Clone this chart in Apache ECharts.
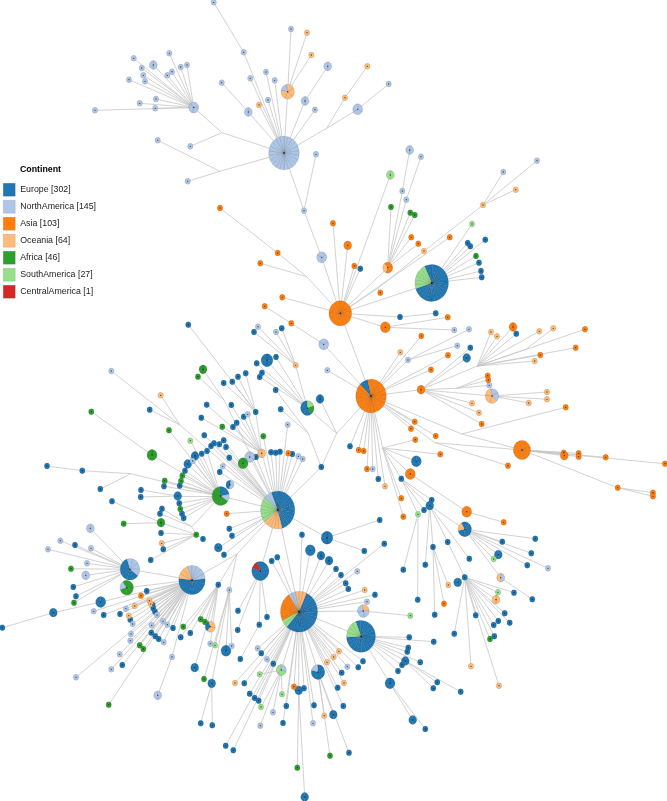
<!DOCTYPE html>
<html><head><meta charset="utf-8">
<style>html,body{margin:0;padding:0;background:#fff}#c{width:667px;height:801px}</style>
<script src="https://cdn.jsdelivr.net/npm/echarts@6/dist/echarts.min.js"></script>
</head><body><div id="c"></div>
<script>
const continents = ["Europe","NorthAmerica","Asia","Oceania","Africa","SouthAmerica","CentralAmerica"];
const continentCodes = ["E","N","A","O","F","S","C"];
const continentTotals = [302,145,103,64,46,27,1];
const continentColors = ["#1f77b4","#aec7e8","#ff7f0e","#ffbb78","#2ca02c","#98df8a","#d62728"];

// [id, parent id, x, y, composition (clockwise), start angle]; "" composition = unmarked branch point
const topCluster = [
["A",null,284,153,"N22",0],["B","j1",193.7,107.5,"N3",80],["j1","A",222,132.7,""],["j2","A",220,171.3,""],
[0,"B",133.7,58.3,"N"],[0,"B",153.3,65,"N2"],[0,"B",169.3,53.3,"N"],[0,"B",141.7,68,"N"],[0,"B",187,65,"N"],[0,"B",180.7,67,"N"],
[0,"B",172,71.7,"N"],[0,"B",167.3,75.3,"N"],[0,"B",143.3,75.3,"N"],[0,"B",145,81.3,"N"],[0,"B",129,79.7,"N"],[0,"B",156,99,"N"],
[0,"B",139.7,103.3,"N"],[0,"B",155.3,108.3,"N"],[0,"B",95,110.3,"N"],
[0,"j1",190.3,146.3,"N"],[0,"j2",157.7,140.3,"N"],[0,"j2",187.7,181.3,"N"],
["t1","A",243.7,52.3,"N"],[0,"t1",213.7,2.3,"N"],["t2","A",248.3,112,"N2"],[0,"t2",221.7,82.7,"N"],
[0,"A",250.3,78.3,"N"],[0,"A",266,72,"N"],[0,"A",274.7,80.3,"N"],[0,"A",268,100,"N"],[0,"A",259,105,"O"],
["t3","A",287.7,91.7,"O4N1",350],[0,"t3",291,29,"N"],[0,"t3",307,32.7,"O"],[0,"t3",311.3,55,"O"],
["t4","A",305,101,"N2"],[0,"t4",327.7,66.3,"N2"],[0,"A",315,109.7,"N"],
["j3","A",326.7,128.3,""],["t5","j3",345,97.7,"O"],[0,"t5",367.3,66.3,"O"],["t6","j3",357.7,109.3,"N3"],[0,"t6",388.7,84,"N"]
];
const asiaCluster = [
["a1","A",304,210.7,"N"],[0,"a1",316,154.3,"N"],["a2","a1",321.7,257.3,"N3",60],["C","a2",340.3,313.3,"A13"],
["a3","C",306.7,276.7,""],["a4","a3",277.7,253,"A"],[0,"a4",220,208,"A"],[0,"a3",260.3,263.3,"A"],
[0,"C",282.3,297.3,"A"],[0,"C",333,223.3,"A"],[0,"C",347.7,245.3,"A2"],[0,"C",354.3,266,"A"],[0,"C",360.3,268.7,"E"],
[0,"C",390.3,175,"S2"],["a5","C",387.7,267.7,"A2O1",320],["a6","a5",402.3,191,"N"],[0,"a6",409.7,150,"N2"],["a7","a5",406.3,199.7,"N"],[0,"a7",421,156.7,"N"],
[0,"a5",391,207,"F"],[0,"a5",410.3,212.7,"F"],[0,"a5",414.7,215,"F"],[0,"a5",411.3,237.3,"A"],[0,"a5",418.3,243.7,"A"],
["a8","C",378,288.3,""],[0,"a8",380.3,292.7,"A"],["a9","a8",424,251,"O"],["a10","a9",483,205,"O"],[0,"a10",503.3,172,"N"],[0,"a10",537,160.7,"N"],[0,"a10",515.7,189.7,"O"],
[0,"C",449.7,237.3,"A"],["Eh","C",431.7,283,"E20S6",335],[0,"Eh",472,224,"S"],[0,"Eh",467.7,243,"E"],[0,"Eh",470.3,246.3,"E"],[0,"Eh",485.3,239.7,"E"],
[0,"Eh",476,256,"F"],[0,"Eh",479,262.7,"E"],[0,"Eh",481,271,"E"],[0,"Eh",481.7,277.3,"E"],
["a11","C",400,317,"E"],[0,"a11",435.7,313.3,"E"],["a12","C",385.3,327.3,"A3"],[0,"a12",447.7,317.3,"A"],[0,"a12",454.3,330,"N"],
["D","C",371,396,"A20E2",347]
];
const eastCluster = [
["d1","D",323.7,344.3,"N3",60],["d2","d1",291.3,323.3,"A"],[0,"d2",264.7,306.3,"A"],[0,"D",327.3,370.3,"N"],
[0,"D",421.3,336,"A"],[0,"D",400.3,352.3,"O"],["d3","D",408,360,"N"],[0,"d3",469,329.3,"N"],[0,"d3",457.3,345.7,"N"],[0,"D",431,369.7,"A"],[0,"D",448,355.3,"A"],
["Fh","D",421,389.7,"A2"],[0,"Fh",470.3,347.7,"E"],[0,"Fh",466.7,358,"E2"],["K1","Fh",477.3,366,""],
[0,"K1",491,332,"O"],[0,"K1",497,336.3,"O"],[0,"K1",513,327,"A2"],[0,"K1",516.3,333.7,"E"],[0,"K1",539.3,331.3,"O"],[0,"K1",585,329.3,"A"],
["k2","K1",526,349.3,""],[0,"k2",553.3,328.3,"O"],[0,"K1",540.3,355,"A"],[0,"K1",575.7,347.7,"A"],[0,"K1",534.7,361,"O"],
["f2","Fh",456.7,388.3,""],[0,"f2",487.7,375.7,"A"],[0,"f2",488.3,380,"A"],[0,"f2",489.3,385.3,"N"],
["f3","Fh",492,396,"N2O3",350],[0,"f3",547,392,"O"],[0,"f3",547,399.3,"O"],[0,"f3",528.7,403,"O"],
[0,"Fh",472,403.3,"O"],[0,"Fh",479,412.7,"O"],[0,"Fh",481.7,424,"A"],
["g1","D",461.7,434,""],[0,"g1",565.7,407.3,"A"],["G","g1",522,450,"A8",30],
[0,"G",563.7,452.7,"A"],[0,"G",564.3,455.7,"A2"],[0,"G",578.7,453.3,"A"],[0,"G",578.7,456.7,"A"],[0,"G",605.7,457.3,"A"],[0,"G",665,463.7,"A"],
["g2","G",617.7,487.7,"A"],[0,"g2",653,492.7,"A"],[0,"g2",653,496.3,"A"],
[0,"D",414.7,421.7,"A"],[0,"D",411,428.7,"A"],[0,"D",435.7,436,"A"],["g3","D",435,442.7,""],[0,"g3",508,465.7,"A"],
["J4","D",382.7,448,""],[0,"J4",415.3,439.7,"A"],[0,"J4",440.3,454.3,"A"],[0,"J4",416.3,461.3,"E3"],["s1","J4",410.3,474,"A3"],["s2","J4",401.3,478.7,"E"],[0,"J4",401.3,498.3,"A"],[0,"J4",403.3,516.7,"A"],
[0,"D",350,446.3,"E"],[0,"D",358.7,450,"A"],[0,"D",363.7,451,"A"],[0,"D",367,469,"A"],[0,"D",372.7,469,"N"],[0,"D",378.3,479,"E"],[0,"D",385,486.3,"O"]
];
const southEastCluster = [
["s3","s1",466.7,511.7,"A3"],[0,"s3",503.7,522.3,"A"],
["s4","s2",429.7,505.7,"E2"],[0,"s2",431.7,500,"E"],[0,"s2",424,510,"E"],["s5","s2",418,514.3,"S"],[0,"s5",403.3,569.7,"E"],[0,"s5",417.7,599.7,"E"],
[0,"s4",425.3,564.7,"E"],["s6","s4",433,547,"E"],[0,"s6",434.7,614.7,"E"],[0,"s6",448.3,585,"O"],[0,"s6",444,603.7,"A"],["s7","s4",447.7,542,"E"],[0,"s4",469.3,558.7,"E"],
["s8","s4",464.7,529.3,"E4O1",330],[0,"s8",535.3,538.7,"E"],[0,"s8",502.3,541.7,"E"],[0,"s8",531.3,553.3,"E"],[0,"s8",498.3,554.7,"E2"],[0,"s8",493.7,559,"S"],[0,"s8",527.3,565.3,"E"],[0,"s8",548,568.3,"N"],
["s9","s8",500.7,577.7,"N1O1",0],[0,"s9",532.3,599.3,"E"],
["s10","s7",464.7,577.3,"E"],[0,"s10",457.7,582.3,"E2"],[0,"s10",514,592.7,"E"],[0,"s10",498,592.3,"S"],[0,"s10",496,599.7,"O2"],[0,"s10",504.7,613.3,"E"],[0,"s10",509.7,622.7,"E"],
[0,"s10",498.3,621,"E"],[0,"s10",493.7,625,"E"],[0,"s10",494.3,636.3,"E"],[0,"s10",490,639,"F"],[0,"s10",475.7,615.3,"E"],[0,"s10",454.3,633.7,"E"],[0,"s10",471,666.3,"O"],[0,"s10",499,685.7,"O"]
];
const centerCluster = [
["j0","m0",321.3,467,"E"],["m0","D",336.7,433.3,""],["m1","j0",308.3,433.3,""],[0,"m1",275.7,390,"E"],[0,"m1",280.7,409.3,"E"],
["P","m0",307.3,408,"S1F1E3",0],[0,"m0",320,399,"E2"],
["p1","P",295.7,365.3,"O"],[0,"p1",258,326.7,"N"],[0,"p1",254,332,"E"],[0,"p1",276,332,"N"],[0,"p1",281.7,328.3,"E"],
[0,"P",267,360.3,"E4"],[0,"P",276,357,"E"],[0,"P",256.7,363.3,"E"],[0,"P",262,372.7,"E"],[0,"P",259.7,377,"E"],
["J","j0",277.7,510,"E14O5S6N2",338],["I","J",299,611.7,"E17S2A7N2O3",24],["H","I",361,636.3,"E16S4",339],
["q1","J",327,537.7,"E4"],[0,"q1",379.7,520,"E"],[0,"q1",364.3,551,"E"],
[0,"I",302,534.7,"E"],[0,"I",310.3,550.3,"E3"],[0,"I",321,555.7,"E2"],[0,"I",329,560.7,"E2"],[0,"I",336,569,"E"],[0,"I",341,575,"E"],[0,"I",345.7,583.3,"E"],[0,"I",348.3,589,"E"],[0,"I",384.3,543.7,"E"],
[0,"I",357.3,571.3,"N"],[0,"I",364.7,590,"O"],[0,"I",375,594.7,"E"],[0,"I",367,601.7,"N"],["q2","I",363.3,611,"O1N3",350],[0,"q2",410.3,615.7,"S"],
[0,"I",271.7,561,"E"],[0,"I",277.3,557.3,"E"],
["R","J",260.3,571,"E7C1",335],[0,"R",238,610.7,"E"],[0,"R",237.7,630,"E"],[0,"R",267,617,"E"],["r1","R",259.3,624.7,"E"],[0,"r1",240.3,659,"E"],
[0,"J",218.3,547.7,"E2"],[0,"J",224,554.7,"E"],[0,"J",229.3,528.7,"E"],[0,"J",232,535.7,"E"],[0,"J",226.7,513.7,"A"],
[0,"H",409.3,637.3,"E"],[0,"H",433.7,641.7,"E"],[0,"H",408.3,647.7,"E"],[0,"H",407.3,651.7,"E"],[0,"H",420.3,662.3,"E"],[0,"H",402,665,"E"],[0,"H",398,671,"E"],
["h1","H",405.3,661,"E2"],[0,"h1",437.3,682.3,"E"],[0,"h1",433.3,688.3,"E"],[0,"h1",460.7,691.7,"E"],
["h2","H",390,683.3,"E3"],[0,"h2",412.7,720,"E2"],[0,"h2",425.3,729,"E"]
];
const bottomCluster = [
[0,"I",273.3,663.7,"E"],["b1","I",281.3,670,"N1S2",350],[0,"b1",259.7,674.3,"S"],[0,"I",267,659.3,"N"],[0,"I",257.7,648.3,"N"],[0,"I",261.3,653.3,"E"],
[0,"I",244.3,683.3,"E"],[0,"I",235,683,"O"],[0,"I",249.7,693.7,"E"],[0,"I",254.7,698,"E"],[0,"I",258.7,700.7,"E"],[0,"I",225.7,745.7,"E"],[0,"I",233.3,750.3,"E"],
[0,"b1",261,707,"S"],[0,"b1",260.3,725.7,"N"],[0,"b1",273,712.3,"N"],[0,"b1",282,694.3,"S"],[0,"I",286.3,706,"E"],[0,"I",283,723,"E"],[0,"I",294,686.7,"A"],
["b2","I",298.7,690.3,"E2"],[0,"I",304,688.3,"E"],[0,"b2",297.3,767.7,"F"],[0,"b2",304.7,797,"E2"],[0,"I",314,705.3,"E"],[0,"I",313,723.3,"N"],
["b3","I",318,672,"E4N1",-5],[0,"b3",324.3,715.7,"O"],[0,"b3",330,755.7,"F"],[0,"b3",333.3,714.7,"E2"],[0,"b3",349,752.7,"E"],
[0,"I",343.3,706,"E"],[0,"I",337.7,687.7,"E"],[0,"I",344,683,"O"],[0,"I",341.7,672.7,"E"],[0,"I",347.3,666.7,"N"],[0,"I",327,662.3,"O"],[0,"I",333.7,657,"O"],[0,"I",339,651.3,"O"],[0,"I",358.3,667.3,"E"],[0,"I",363,661.3,"E"]
];
const northWestCluster = [
["n0","J",261.7,453.3,"O2",0],["n1","n0",255.7,412,"E"],[0,"n1",223.7,383,"E"],[0,"n1",232.3,381.7,"E"],[0,"n1",238,376.7,"E"],[0,"n1",245.7,373.3,"E"],[0,"n1",188.3,324.7,"E"],
[0,"n0",231.3,405,"E"],[0,"n0",243.7,416.7,"E"],[0,"n0",247.7,414.3,"N"],[0,"n0",236.7,422.7,"E"],[0,"n0",233,427,"E"],[0,"n0",222.3,426.7,"F"],[0,"n0",206.7,404.7,"E"],[0,"n0",201.3,417.7,"E"],
[0,"J",249.7,457,"N3"],[0,"J",243,463.3,"F3"],[0,"J",263.3,436.3,"F"],[0,"J",256,457,"E"],[0,"J",271,452.3,"E"],[0,"J",275.7,452.7,"E"],[0,"J",280,451.7,"E"],[0,"J",288.3,453.3,"A"],[0,"J",292.3,454,"E"],[0,"J",298.3,456.3,"N"],[0,"J",302.7,459,"N"],[0,"J",287.7,424.7,"N"],
[0,"J",204.3,435.3,"E"],[0,"J",211,446,"E"],[0,"J",214,443.3,"E"],[0,"J",219.3,444.3,"E"],[0,"J",223.7,440.3,"E"],[0,"J",226,447,"E"],[0,"J",229.3,457.7,"E"],[0,"J",222.7,466.3,"N"],[0,"J",219.7,472,"E"],
["w1","J",180,425,""],[0,"w1",111.3,371,"N"],[0,"w1",160.7,395.3,"O"],[0,"w1",149.7,409.7,"E"],["w2","J",224,400,""],[0,"w2",203,369.3,"F2"],[0,"w2",198,376.7,"F"],
["Nh","J",220.7,496,"E2N1F5",350],[0,"Nh",230,484.7,"N1E1",10],["w3","Nh",152,455,"F3"],[0,"w3",91.3,411.7,"F"],
[0,"Nh",169,430.3,"F"],[0,"Nh",190.3,440.7,"S"],[0,"Nh",207,451,"E"],[0,"Nh",201.7,453.7,"E"],[0,"Nh",195,456,"E2"],[0,"Nh",192.7,461,"N"],[0,"Nh",187.7,464,"E2"],[0,"Nh",185,470.7,"E"],[0,"Nh",182.3,475.7,"F"],[0,"Nh",181,481,"F"],[0,"Nh",179.7,485.7,"E"],
[0,"Nh",164.7,480.7,"F"],[0,"Nh",164,486.3,"E"],["w4","Nh",177.7,496,"E2"],[0,"w4",141,490,"E"],[0,"w4",140.7,497,"E"],[0,"Nh",179.3,503.3,"E"],[0,"Nh",180.3,509,"F"],[0,"Nh",182,513.7,"E"],[0,"Nh",183.7,518,"E"],
["w5","Nh",131,473.7,""],["w6","w5",82.3,470.7,"E"],[0,"w6",47,466,"E"],[0,"w5",100.3,489,"E"],
["w7","Nh",191.7,526.7,""],[0,"w7",162,508.7,"E"],[0,"w7",160,513.7,"E"],["w8","w7",196.3,534.7,"F"],["w9","w8",161,522.7,"F2"],[0,"w9",123.7,523.7,"F"],[0,"w9",112,501.3,"E"],
[0,"w8",161,533,"E"],[0,"w8",161.7,543.3,"O"],[0,"w8",163.3,549.3,"E"],[0,"w8",150.7,560,"E"],[0,"w8",203,539,"E"]
];
const westCluster = [
["j5","J",237,554,""],["Kh","j5",192,580,"E9O3N5",85],["Lh","Kh",130,569.3,"N4E6",342],["Mh","Kh",126.7,587.7,"F4N1",325],
[0,"Lh",90.3,528.3,"N2"],[0,"Lh",60.3,540.7,"N"],[0,"Lh",75,545,"E"],[0,"Lh",91,548.3,"N"],[0,"Lh",48,549.3,"N"],[0,"Lh",87,563.3,"N"],[0,"Lh",71,568.7,"F"],[0,"Lh",85.7,575.3,"N2"],[0,"Lh",73.3,587,"E"],[0,"Lh",76,596.3,"E"],[0,"Lh",74,602.7,"F"],
["c1","Kh",100.7,602,"E3"],["c2","c1",53.3,612.7,"E2"],[0,"c2",2.3,627.7,"E"],
[0,"Kh",146.7,591,"E"],[0,"Kh",141,595.7,"A"],[0,"Kh",126,608.7,"N"],[0,"Kh",120,614,"E"],[0,"Kh",103.7,615,"E"],[0,"Kh",93.7,611.3,"N"],[0,"Kh",149.3,600.7,"O"],[0,"Kh",150.7,604,"O"],[0,"Kh",134.7,606,"O"],[0,"Kh",128.7,615.7,"O"],
[0,"Kh",152.7,605,"E"],[0,"Kh",153.3,608.3,"E"],[0,"Kh",155,611.7,"E"],[0,"Kh",157,615,"N"],[0,"Kh",130.3,619.7,"E"],[0,"Kh",132.7,624,"N"],[0,"Kh",163,621.3,"N"],[0,"Kh",151.7,625.3,"N"],[0,"Kh",167.3,624.7,"N"],[0,"Kh",173,628,"E"],
[0,"Kh",131,634,"N"],[0,"Kh",130.3,640.7,"N"],[0,"Kh",151.3,632.7,"E"],[0,"Kh",155.3,636.3,"E"],[0,"Kh",158.7,639,"E"],[0,"Kh",163.7,642.3,"N"],[0,"Kh",139.7,645.3,"F"],[0,"Kh",143.3,649,"F"],[0,"Kh",119.7,654.3,"N"],[0,"Kh",122.3,665,"E"],[0,"Kh",111.3,669.3,"N"],[0,"Kh",76,677.3,"N"],[0,"Kh",108.7,704.7,"F"],
["c3","Kh",172,657,"N"],[0,"c3",157.7,695.3,"N2"],
["c4","j5",218.3,584.7,"E"],[0,"c4",180.7,637.3,"E"],[0,"c4",190.3,633,"E"],[0,"c4",183.3,626.7,"F"],[0,"c4",200.7,619.3,"F"],[0,"c4",205,622,"F"],[0,"c4",210.3,626.7,"O2E1",340],[0,"c4",210.3,643.7,"N"],[0,"c4",194.7,667.7,"E2"],
["c5","j5",229.3,590,"N"],[0,"c5",215,645.3,"S"],[0,"c5",226,650.7,"E3"],[0,"c5",231.7,646,"N"],[0,"c5",204,679,"F"],["c6","c5",211.7,683.3,"E2"],[0,"c6",200.7,723.3,"E"],[0,"c6",212.3,725.3,"E"]
];
// extra network links between already-listed nodes
const crossLinks = [["g3","G"]];

const allNodes = [...topCluster,...asiaCluster,...eastCluster,...southEastCluster,...centerCluster,...bottomCluster,...northWestCluster,...westCluster];
const byId = {};
allNodes.forEach(n => { if (n[0]) byId[n[0]] = n; });

const edgeData = allNodes.filter(n => n[1] && byId[n[1]]).map(n => ({coords:[[byId[n[1]][2],byId[n[1]][3]],[n[2],n[3]]]}));
crossLinks.forEach(l => edgeData.push({coords:[[byId[l[0]][2],byId[l[0]][3]],[byId[l[1]][2],byId[l[1]][3]]]}));

function parseComp(s){ return [...s.matchAll(/([A-Z])(\d*)/g)].map(m => [m[1], m[2] ? +m[2] : 1]); }
const radiusOf = n => 2.7 * Math.pow(n, 0.56);
const perContinent = continentCodes.map(() => []);
const centres = [];
allNodes.forEach(n => {
  const parts = parseComp(n[4] || "");
  if (!parts.length) return;
  const total = parts.reduce((a,p) => a + p[1], 0);
  const step = 360 / total;
  let ang = n[5] || 0;
  parts.forEach(([code,count]) => {
    const idx = continentCodes.indexOf(code);
    for (let i = 0; i < count; i++) {
      perContinent[idx].push([n[2], n[3], total, ang, ang + step]);
      ang += step;
    }
  });
  centres.push([n[2], n[3]]);
});

const rad = d => (d - 90) * Math.PI / 180;
function renderSlice(color){
  return function(params, api){
    const p = api.coord([api.value(0), api.value(1)]);
    const total = api.value(2);
    return {
      type:"sector", x:p[0], y:p[1], scaleX:1, scaleY:1.1,
      shape:{cx:0, cy:0, r:radiusOf(total), r0:0, startAngle:rad(api.value(3)), endAngle:rad(api.value(4))},
      style:{fill:color, stroke:"rgba(0,0,0,0.2)", lineWidth:0.5}
    };
  };
}

const series = [{
  type:"lines", coordinateSystem:"cartesian2d", silent:true, z:1,
  data:edgeData, lineStyle:{color:"#c6c6c6", width:0.8, opacity:1}
}];
continents.forEach((name,i) => series.push({
  type:"custom", name:name + " [" + continentTotals[i] + "]", coordinateSystem:"cartesian2d", z:2, silent:true,
  clip:false, animation:false, itemStyle:{color:continentColors[i]},
  data:perContinent[i], renderItem:renderSlice(continentColors[i]), encode:{x:0,y:1}
}));
series.push({
  type:"scatter", coordinateSystem:"cartesian2d", z:3, silent:true, symbolSize:1.3,
  itemStyle:{color:"#111", opacity:0.8}, data:centres, animation:false
});

const chart = echarts.init(document.getElementById("c"), null, {renderer:"canvas"});
chart.setOption({
  animation:false, backgroundColor:"#fff",
  grid:{left:0,right:0,top:0,bottom:0},
  xAxis:{type:"value",min:0,max:667,show:false},
  yAxis:{type:"value",min:0,max:801,inverse:true,show:false},
  title:{text:"Continent",left:20,top:165,padding:0,textStyle:{fontFamily:"Liberation Sans",fontSize:8.8,fontWeight:"bold",color:"#000"}},
  legend:{
    orient:"vertical",left:3,top:183,padding:0,itemWidth:12,itemHeight:13,itemGap:3.5,icon:"rect",selectedMode:false,
    data:continents.map((c,i) => c + " [" + continentTotals[i] + "]"),
    textStyle:{fontFamily:"Liberation Sans",fontSize:8.8,color:"#222"},
    itemStyle:{borderColor:"rgba(0,0,0,0.2)",borderWidth:0.5}
  },
  series
});
</script></body></html>
